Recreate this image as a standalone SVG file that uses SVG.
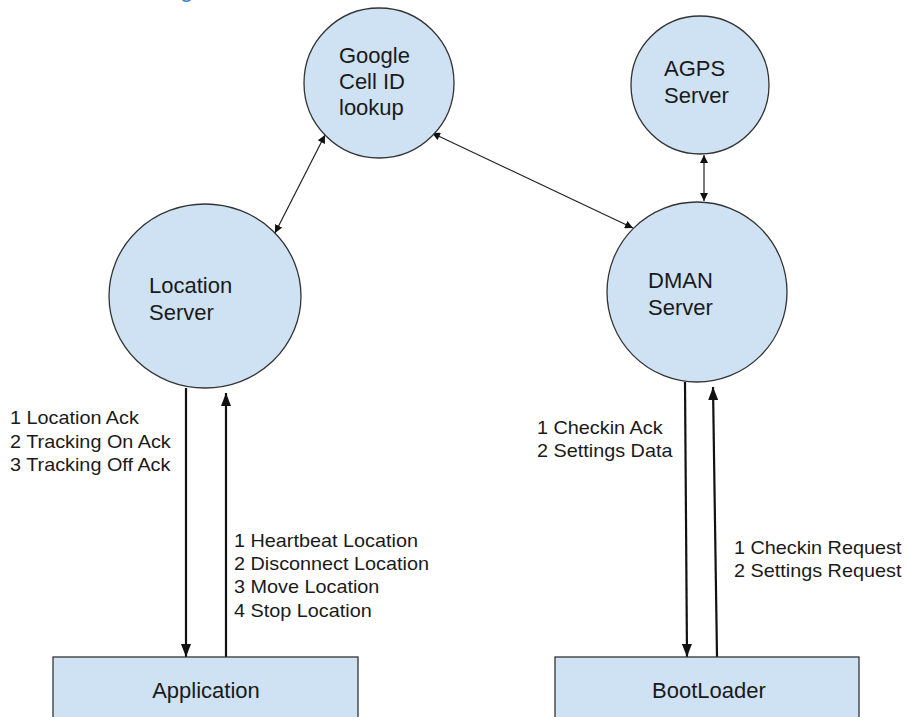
<svg xmlns="http://www.w3.org/2000/svg" width="907" height="717" viewBox="0 0 907 717">
<style>
  .node { fill: #cfe2f3; stroke: #333333; stroke-width: 1.3; }
  .ntext { font-family: "Liberation Sans", Arial, sans-serif; font-size: 22px; fill: #1a1a1a; }
  .lbl { font-family: "Liberation Sans", Arial, sans-serif; font-size: 17.7px; fill: #1a1a1a; }
  .thin { stroke: #222222; stroke-width: 1.2; fill: none; marker-start: url(#ts); marker-end: url(#te); }
  .thick { stroke: #111111; stroke-width: 2.2; fill: none; marker-end: url(#be); }
</style>
<defs>
  <marker id="te" markerUnits="userSpaceOnUse" markerWidth="10" markerHeight="8" refX="8" refY="4" orient="auto">
    <path d="M0,0 L8,4 L0,8 Z" fill="#111111"/>
  </marker>
  <marker id="ts" markerUnits="userSpaceOnUse" markerWidth="10" markerHeight="8" refX="0" refY="4" orient="auto">
    <path d="M8,0 L0,4 L8,8 Z" fill="#111111"/>
  </marker>
  <marker id="be" markerUnits="userSpaceOnUse" markerWidth="14" markerHeight="10" refX="13" refY="5" orient="auto">
    <path d="M0,0 L13,5 L0,10 Z" fill="#111111"/>
  </marker>
</defs>
<rect width="907" height="717" fill="#ffffff"/>
<text x="180" y="-3" font-family="Liberation Sans, Arial, sans-serif" font-size="24" fill="#3d85c6">g</text>

<g id="connectors">
  <line class="thin" x1="325" y1="135" x2="275" y2="233"/>
  <line class="thin" x1="432" y1="133" x2="633" y2="228"/>
  <line class="thin" x1="704" y1="155" x2="704" y2="201"/>
  <line class="thick" x1="186" y1="388" x2="186" y2="657"/>
  <line class="thick" x1="226" y1="657" x2="226" y2="393"/>
  <line class="thick" x1="685" y1="382" x2="687" y2="657"/>
  <line class="thick" x1="717" y1="657" x2="713" y2="387"/>
</g>

<g id="google">
  <circle class="node" cx="379" cy="83" r="75"/>
  <text class="ntext" x="339" y="63">Google</text>
  <text class="ntext" x="339" y="89">Cell ID</text>
  <text class="ntext" x="339" y="115">lookup</text>
</g>
<g id="agps">
  <circle class="node" cx="700" cy="85" r="69"/>
  <text class="ntext" x="664" y="76">AGPS</text>
  <text class="ntext" x="664" y="103">Server</text>
</g>
<g id="location">
  <ellipse class="node" cx="205" cy="296" rx="96" ry="92"/>
  <text class="ntext" x="149" y="293">Location</text>
  <text class="ntext" x="149" y="320">Server</text>
</g>
<g id="dman">
  <circle class="node" cx="697" cy="292" r="90"/>
  <text class="ntext" x="648" y="288">DMAN</text>
  <text class="ntext" x="648" y="315">Server</text>
</g>
<g id="application">
  <rect class="node" x="53" y="657" width="305" height="70"/>
  <text class="ntext" x="206" y="698" text-anchor="middle">Application</text>
</g>
<g id="bootloader">
  <rect class="node" x="555" y="657" width="304" height="70"/>
  <text class="ntext" x="709" y="698" text-anchor="middle">BootLoader</text>
</g>

<g id="labels">
  <g transform="translate(10,0) scale(1.12,1)">
    <text class="lbl" x="0" y="424">1 Location Ack</text>
    <text class="lbl" x="0" y="448">2 Tracking On Ack</text>
    <text class="lbl" x="0" y="471">3 Tracking Off Ack</text>
  </g>
  <g transform="translate(234,0) scale(1.12,1)">
    <text class="lbl" x="0" y="547">1 Heartbeat Location</text>
    <text class="lbl" x="0" y="570">2 Disconnect Location</text>
    <text class="lbl" x="0" y="593">3 Move Location</text>
    <text class="lbl" x="0" y="617">4 Stop Location</text>
  </g>
  <g transform="translate(537,0) scale(1.12,1)">
    <text class="lbl" x="0" y="434">1 Checkin Ack</text>
    <text class="lbl" x="0" y="457">2 Settings Data</text>
  </g>
  <g transform="translate(734,0) scale(1.12,1)">
    <text class="lbl" x="0" y="554">1 Checkin Request</text>
    <text class="lbl" x="0" y="577">2 Settings Request</text>
  </g>
</g>
</svg>
